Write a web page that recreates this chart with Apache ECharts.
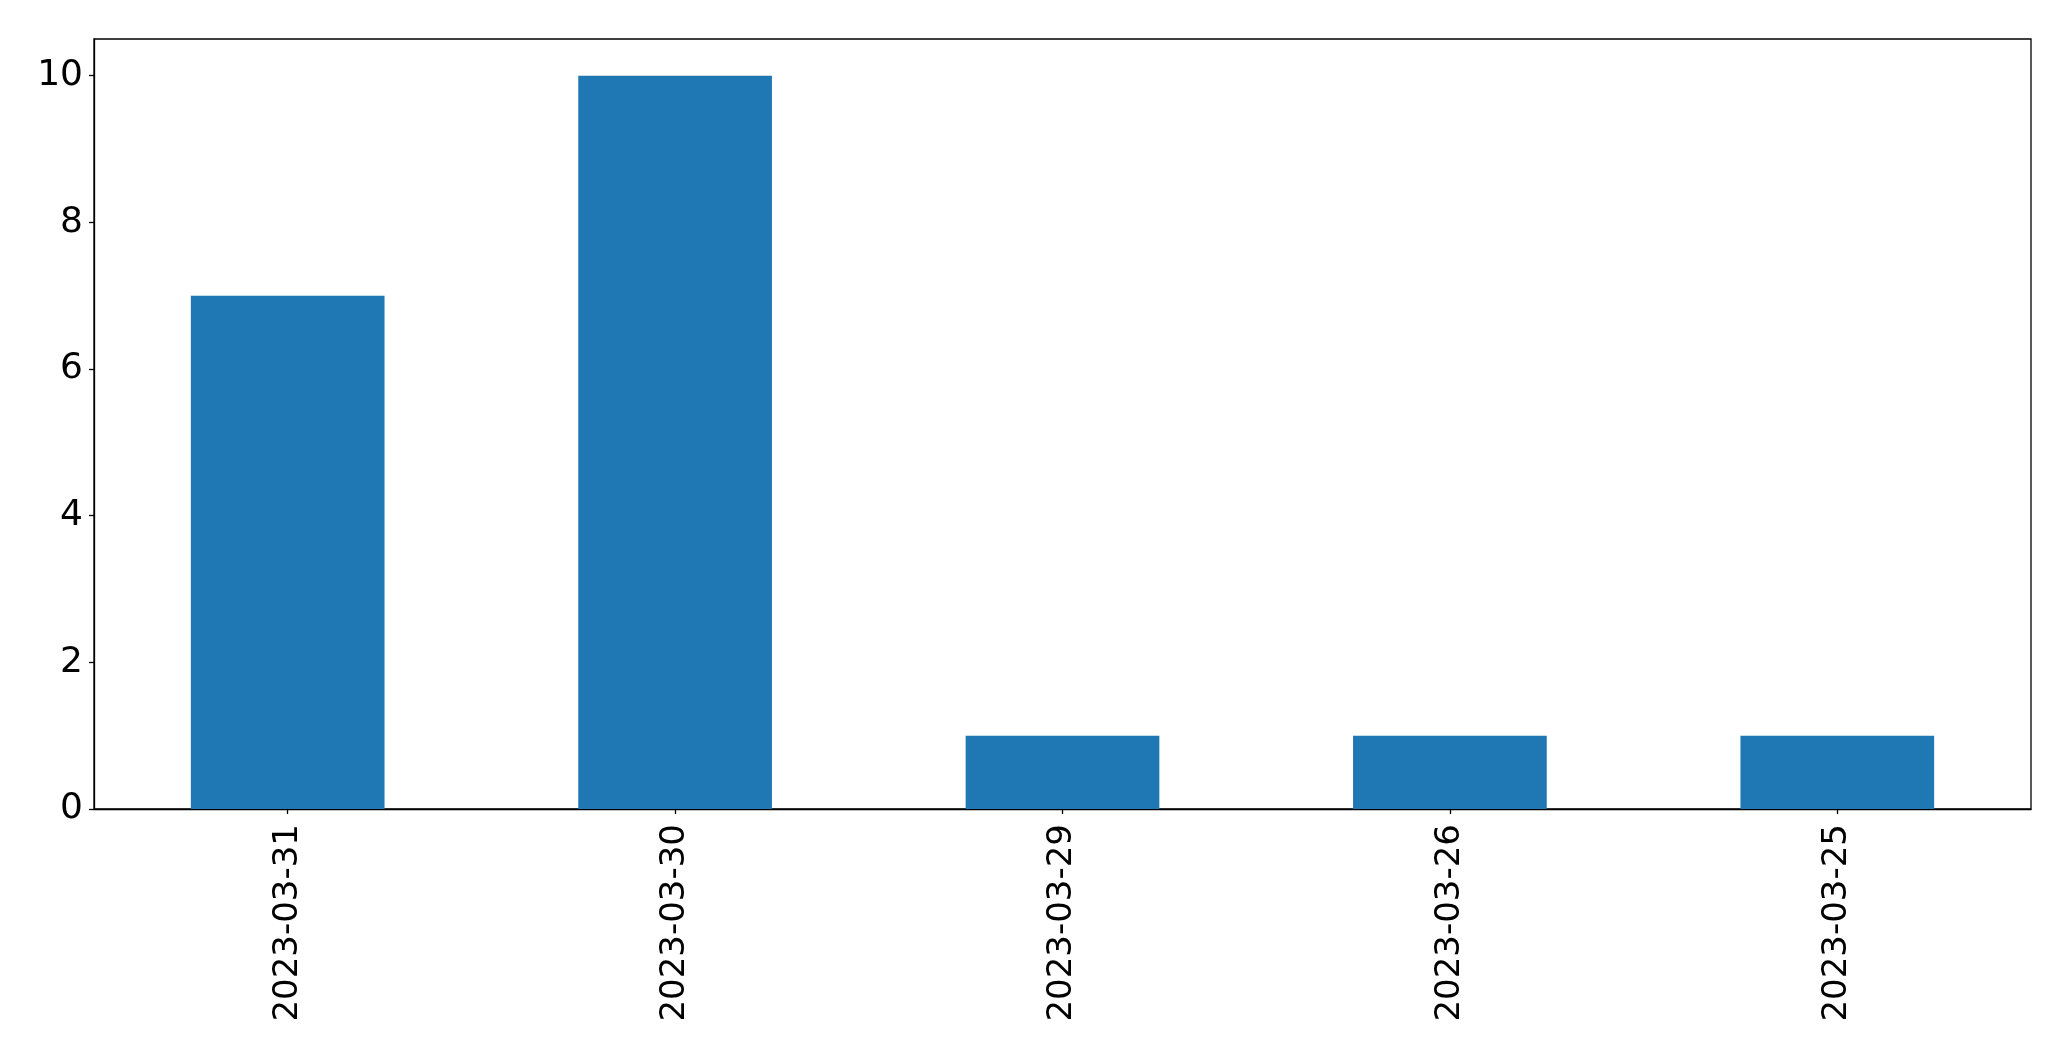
<!DOCTYPE html>
<html>
<head>
<meta charset="utf-8">
<script src="https://cdn.jsdelivr.net/npm/echarts@6/dist/echarts.min.js"></script>
<style>
html,body{margin:0;padding:0;background:#fff;}
#chart{width:2071px;height:1061px;}
</style>
</head>
<body>
<div id="chart"></div>
<script>
const categories = ['2023-03-31', '2023-03-30', '2023-03-29', '2023-03-26', '2023-03-25'];
const counts = [7, 10, 1, 1, 1];
const yTicks = [0, 2, 4, 6, 8, 10];

const chart = echarts.init(document.getElementById('chart'), null, {renderer: 'canvas'});
const font = 'DejaVu Sans';
chart.setOption({
  animation: false,
  backgroundColor: '#ffffff',
  grid: {
    left: 94, right: 40, top: 39, bottom: 252,
    show: true, borderColor: '#000', borderWidth: 1.3, backgroundColor: 'transparent'
  },
  xAxis: {
    type: 'category',
    data: categories,
    axisLine: {show: true, lineStyle: {color: '#000', width: 1.3}},
    axisTick: {show: true, alignWithLabel: true, length: 5, lineStyle: {color: '#000', width: 1.3}},
    axisLabel: {rotate: 90, color: '#000', fontFamily: font, fontSize: 34, margin: 15, interval: 0},
    splitLine: {show: false}
  },
  yAxis: {
    type: 'value',
    min: 0, max: 10.5,
    axisLine: {show: true, lineStyle: {color: '#000', width: 1.3}},
    axisTick: {show: true, length: 5, customValues: yTicks, lineStyle: {color: '#000', width: 1.3}},
    axisLabel: {color: '#000', fontFamily: font, fontSize: 36, margin: 11, customValues: yTicks},
    splitLine: {show: false}
  },
  series: [{
    type: 'bar',
    data: counts,
    barWidth: '50%',
    itemStyle: {color: '#1f77b4'}
  }]
});
</script>
</body>
</html>
